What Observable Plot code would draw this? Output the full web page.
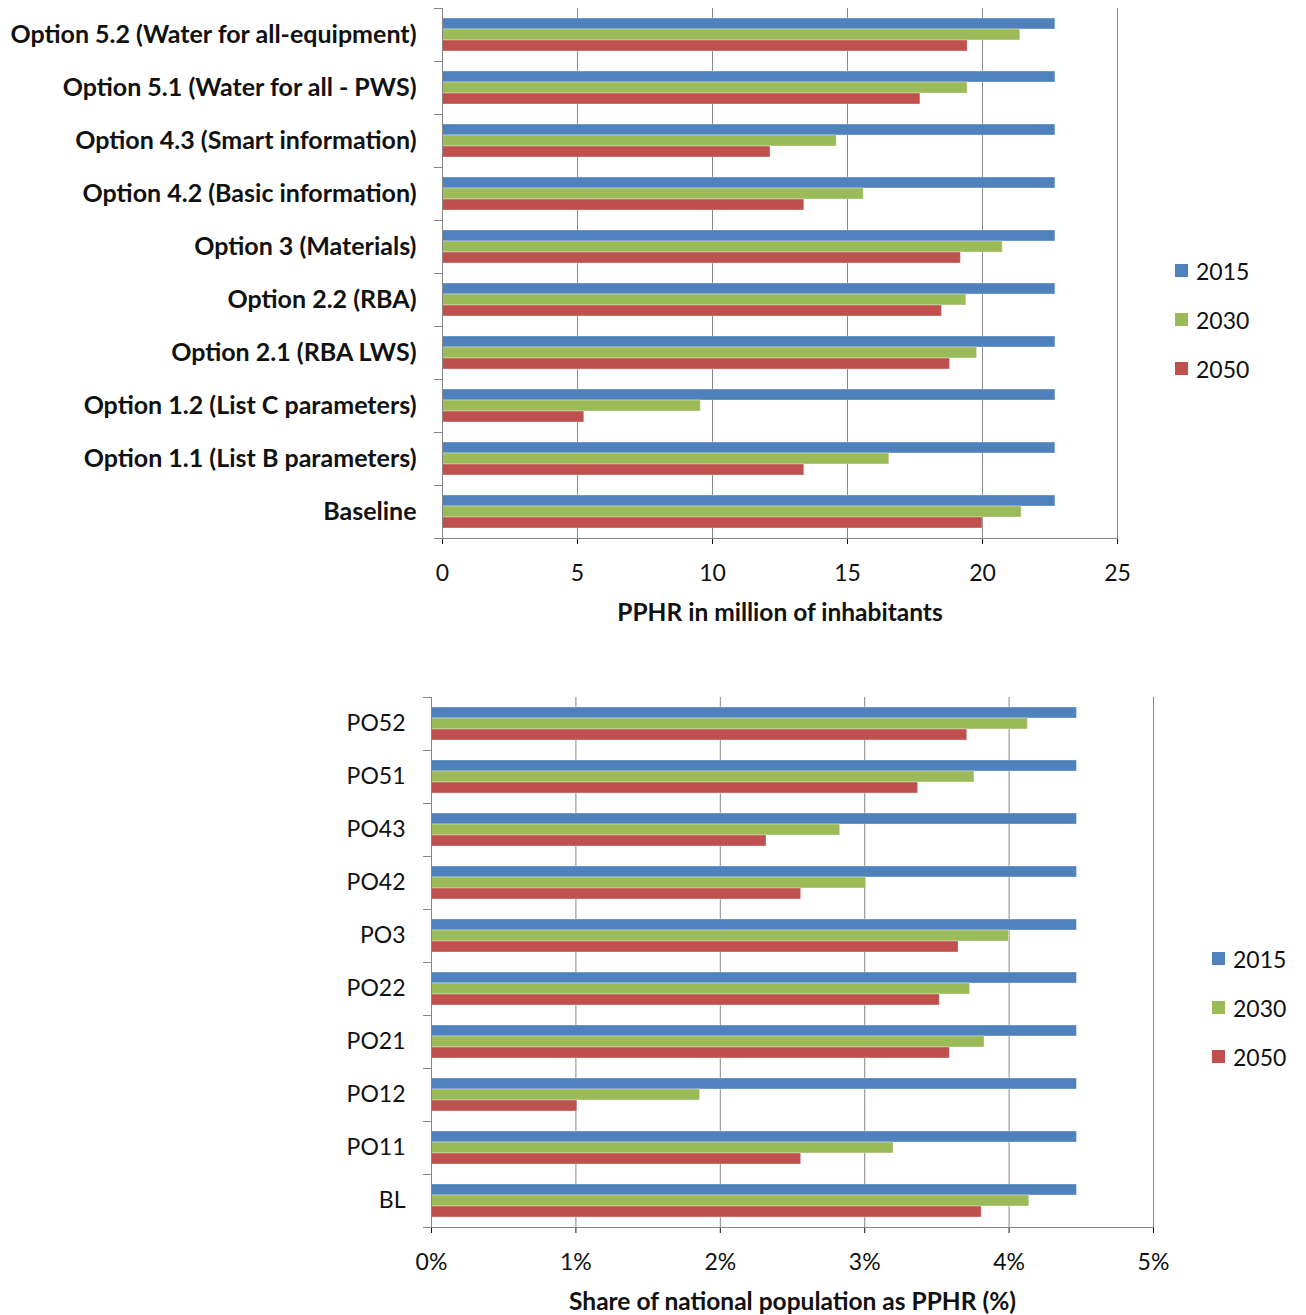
<!DOCTYPE html>
<html>
<head>
<meta charset="utf-8">
<script src="https://cdn.jsdelivr.net/npm/d3@7"></script>
<script src="https://cdn.jsdelivr.net/npm/@observablehq/plot@0.6"></script>
<style>
  body { margin: 0; background: #fff; }
  #wrap { position: relative; width: 1306px; height: 1315px; font-family: Lato, "Open Sans", sans-serif; color: #111; }
  .chart { position: absolute; left: 0; }
  .legend { position: absolute; font-size: 23px; }
  .legend .item { position: relative; height: 49px; display: flex; align-items: center; }
  .legend .sw { width: 13px; height: 13px; margin-right: 8px; }
  .top-chart g[aria-label="fy-axis tick label"] { font-weight: bold; font-size: 25px; }
  .bottom-chart g[aria-label="fy-axis tick label"] { font-size: 23px; }
  g[aria-label="x-axis label"] { font-weight: bold; font-size: 24.5px; }
  g[aria-label="x-axis tick"] { stroke: #868686; }
</style>
</head>
<body>
<div id="wrap"></div>
<script>
// Series order and colours
const years = ["2015", "2030", "2050"];
const colors = ["#4F81BD", "#9BBB59", "#C0504D"];

// Upper chart: PPHR in million of inhabitants
const optionLabels = [
  "Option 5.2 (Water for all-equipment)",
  "Option 5.1 (Water for all - PWS)",
  "Option 4.3 (Smart information)",
  "Option 4.2 (Basic information)",
  "Option 3 (Materials)",
  "Option 2.2 (RBA)",
  "Option 2.1 (RBA LWS)",
  "Option 1.2 (List C parameters)",
  "Option 1.1 (List B parameters)",
  "Baseline"
];
const pphr2015 = [22.7, 22.7, 22.7, 22.7, 22.7, 22.7, 22.7, 22.7, 22.7, 22.7];
const pphr2030 = [21.4, 19.45, 14.6, 15.6, 20.75, 19.4, 19.8, 9.57, 16.55, 21.45];
const pphr2050 = [19.45, 17.7, 12.15, 13.4, 19.2, 18.5, 18.8, 5.25, 13.4, 20.0];
const pphrTicks = [0, 5, 10, 15, 20, 25];

// Lower chart: share of national population as PPHR (%)
const optionCodes = ["PO52", "PO51", "PO43", "PO42", "PO3", "PO22", "PO21", "PO12", "PO11", "BL"];
const share2015 = [4.47, 4.47, 4.47, 4.47, 4.47, 4.47, 4.47, 4.47, 4.47, 4.47];
const share2030 = [4.13, 3.76, 2.83, 3.01, 4.00, 3.73, 3.83, 1.86, 3.20, 4.14];
const share2050 = [3.71, 3.37, 2.32, 2.56, 3.65, 3.52, 3.59, 1.01, 2.56, 3.81];
const shareTicks = [0, 1, 2, 3, 4, 5];

const axisGray = "#868686";

function groupedBars({categories, series, ticks, format, label, width, height,
                      marginLeft, marginRight, marginTop, marginBottom, className}) {
  const rows = categories.flatMap((c, i) =>
    years.map((y, j) => ({category: c, year: y, value: series[j][i]})));
  const innerW = width - marginLeft - marginRight;
  return Plot.plot({
    width, height, marginLeft, marginRight, marginTop, marginBottom,
    className,
    style: {fontFamily: "Lato, 'Open Sans', sans-serif", fontSize: "23px", color: "#111", background: "#fff", overflow: "visible"},
    x: {domain: [ticks[0], ticks[ticks.length - 1]], ticks, tickFormat: format,
        label, labelArrow: "none", labelAnchor: "center", labelOffset: 82, tickSize: 6, tickPadding: 20},
    y: {domain: years, axis: null, paddingInner: 0, paddingOuter: 0.75},
    fy: {domain: categories, axis: "left", padding: 0, label: null, tickSize: 0, tickPadding: 26},
    color: {domain: years, range: colors},
    marks: [
      Plot.gridX(ticks, {stroke: axisGray, strokeOpacity: 1}),
      Plot.barX(rows, {x: "value", y: "year", fy: "category", fill: "year",
                       stroke: "#fff", strokeOpacity: 0.35, strokeWidth: 1}),
      Plot.ruleX([0], {stroke: axisGray}),
      Plot.frame({anchor: "top", insetLeft: -8, insetRight: innerW, stroke: axisGray}),
      Plot.frame({anchor: "bottom", facetAnchor: "bottom", insetLeft: -8, stroke: axisGray})
    ]
  });
}

function legend(left, topPx) {
  const div = document.createElement("div");
  div.className = "legend";
  div.style.left = left + "px";
  div.style.top = topPx + "px";
  years.forEach((y, i) => {
    const item = document.createElement("div");
    item.className = "item";
    const sw = document.createElement("span");
    sw.className = "sw";
    sw.style.background = colors[i];
    item.appendChild(sw);
    item.appendChild(document.createTextNode(y));
    div.appendChild(item);
  });
  return div;
}

const wrap = document.getElementById("wrap");

const upperChart = groupedBars({
  categories: optionLabels,
  series: [pphr2015, pphr2030, pphr2050],
  ticks: pphrTicks,
  format: d => String(d),
  label: "PPHR in million of inhabitants",
  width: 1306, height: 650,
  marginLeft: 442, marginRight: 189, marginTop: 5, marginBottom: 109,
  className: "top-chart"
});
upperChart.classList.add("chart");
upperChart.style.top = "0px";
wrap.appendChild(upperChart);
wrap.appendChild(legend(1175, 246));

const lowerChart = groupedBars({
  categories: optionCodes,
  series: [share2015, share2030, share2050],
  ticks: shareTicks,
  format: d => d + "%",
  label: "Share of national population as PPHR (%)",
  width: 1306, height: 665,
  marginLeft: 431, marginRight: 153, marginTop: 44, marginBottom: 86,
  className: "bottom-chart"
});
lowerChart.classList.add("chart");
lowerChart.style.top = "650px";
wrap.appendChild(lowerChart);
wrap.appendChild(legend(1212, 934));
</script>
</body>
</html>
